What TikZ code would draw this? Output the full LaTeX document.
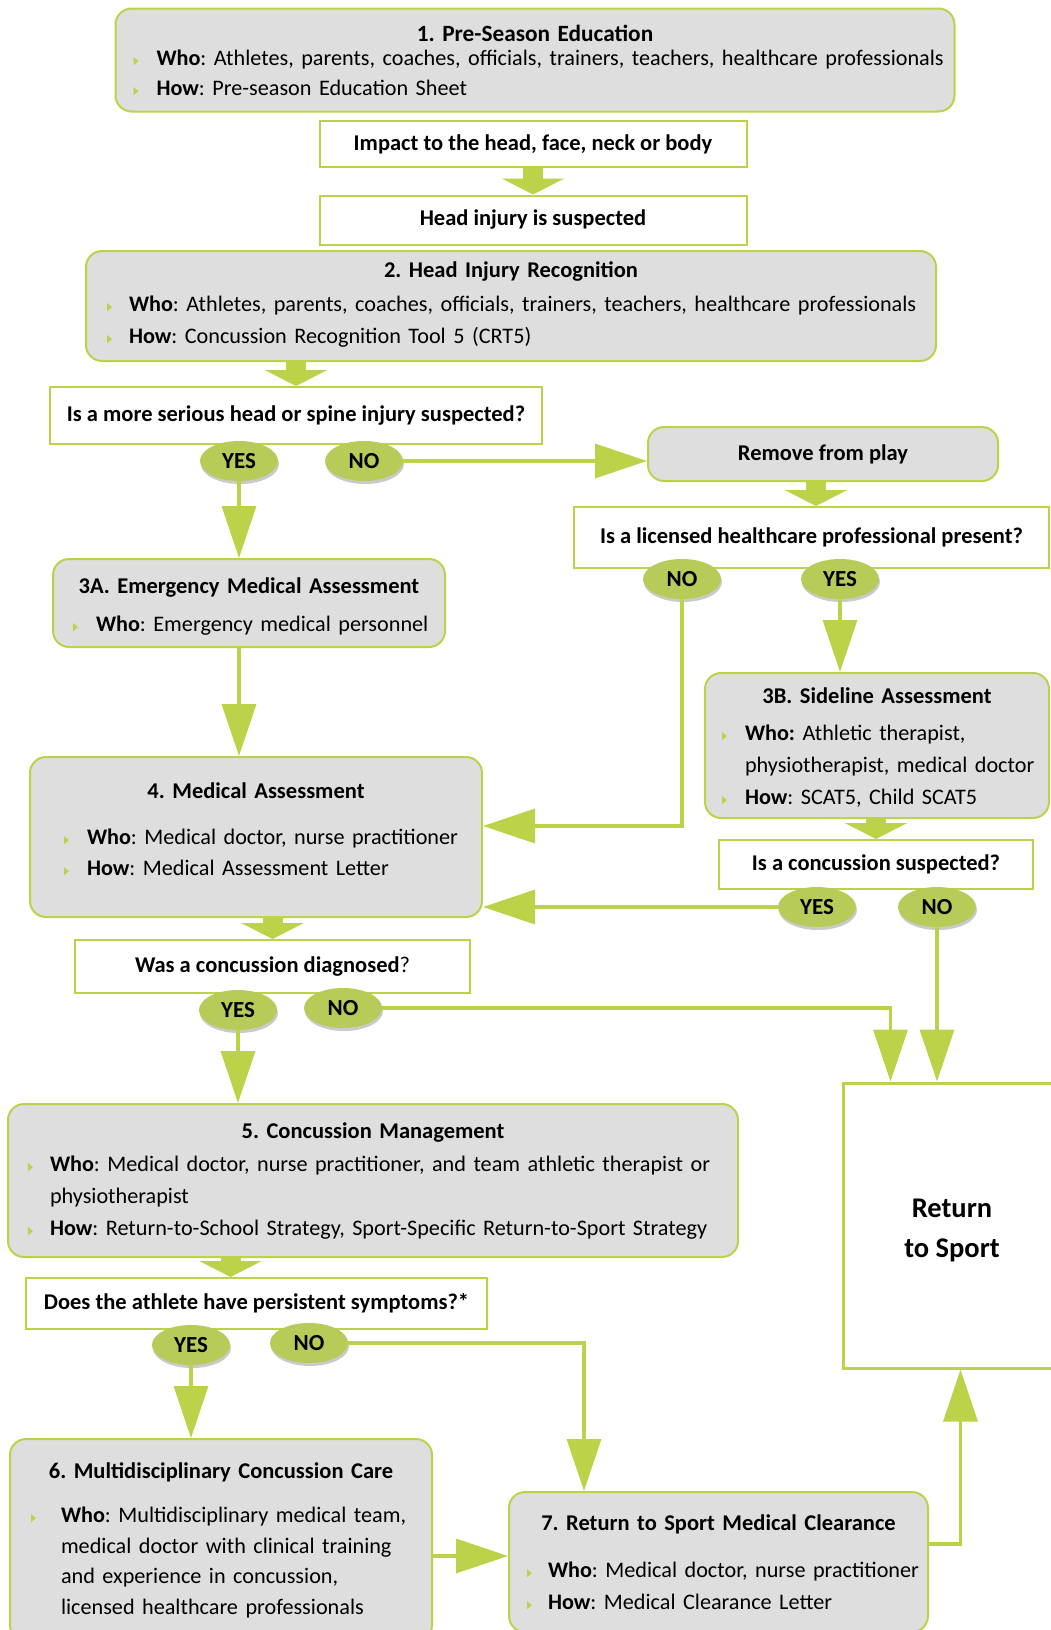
\documentclass[tikz,border=0pt]{standalone}
\usepackage{fontspec}
\setmainfont{Carlito}
\newfontfamily\dejafont{DejaVu Sans}
\usetikzlibrary{arrows.meta,shapes.geometric,shadows,calc}
\frenchspacing

\definecolor{grn}{RGB}{188,210,72}
\definecolor{ovalgrn}{RGB}{183,203,88}
\definecolor{boxgrey}{RGB}{222,222,222}

\newcommand{\bul}[1]{\makebox[#1][l]{\raisebox{1pt}{\textcolor{grn}{\scalebox{0.6}[1]{\dejafont\fontsize{11}{11}\selectfont ▶}}}}}
\newcommand{\ttl}[1]{{\centering\fontsize{22.5}{27}\selectfont\bfseries #1\par}}
% push the text block down (\topgap) or up (\botgap) inside its box
\newcommand{\topgap}[1]{\hrule height0pt\vskip#1}
\newcommand{\botgap}[1]{\par\vskip#1\hrule height0pt}

\begin{document}
\begin{tikzpicture}[x=1pt,y=-1pt,
    font=\fontsize{22.5}{27}\selectfont,
    gbox/.style={rectangle, rounded corners=16pt, draw=grn, line width=2pt, fill=boxgrey, inner xsep=0pt, align=left},
    qbox/.style={rectangle, draw=grn, line width=2pt, fill=white, font=\fontsize{22.5}{27}\selectfont\bfseries},
    oval/.style={ellipse, fill=ovalgrn, minimum width=78, minimum height=40, inner sep=0pt,
      font=\fontsize{23}{27}\selectfont\bfseries,
      drop shadow={shadow xshift=1pt, shadow yshift=-3pt, opacity=.35, fill=black!60}},
    conn/.style={color=grn, line width=3.5pt, -{Triangle[length=52pt,width=34pt]}},
    fat/.style={color=grn, line width=20pt, -{Triangle[length=16pt,width=62pt]}}]

    \useasboundingbox (0,0) rectangle (1051,1630);
    \clip (0,0) rectangle (1051,1630);

    % step 1
    \node[gbox, minimum width=839, minimum height=103, text width=803] (edu) at (535,60)
      {\fontsize{22.2}{30}\selectfont
       {\centering\fontsize{23.3}{30}\selectfont\bfseries 1. Pre-Season Education\par}\vspace{-6pt}
       \mbox{\bul{23pt}\textbf{Who}: Athletes, parents, coaches, officials, trainers, teachers, healthcare professionals}\par
       \mbox{\bul{23pt}\textbf{How}: Pre-season Education Sheet}\par};

    \node[qbox, minimum width=427, minimum height=46] (imp) at (533,144) {Impact to the head, face, neck or body};
    \node[qbox, minimum width=427, minimum height=49] (sus) at (533,220) {Head injury is suspected};

    % step 2
    \node[gbox, minimum width=850, minimum height=110, text width=808] (rec) at (511,306)
      {\fontsize{22.2}{32}\selectfont
       \ttl{2. Head Injury Recognition}\vspace{2pt}
       \mbox{\bul{22pt}\textbf{Who}: Athletes, parents, coaches, officials, trainers, teachers, healthcare professionals}\par
       \mbox{\bul{22pt}\textbf{How}: Concussion Recognition Tool 5 (CRT5)}\botgap{3pt}};

    \node[qbox, minimum width=492, minimum height=57] (serious) at (296,415.5) {Is a more serious head or spine injury suspected?};
    \node[oval] (y1) at (239,461) {YES};
    \node[oval] (n1) at (364,461) {NO};

    \node[gbox, minimum width=350, minimum height=54, font=\fontsize{22.5}{27}\selectfont\bfseries] (rem) at (823,454) {Remove from play};
    \node[qbox, minimum width=475, minimum height=61] (present) at (811.5,537.5) {Is a licensed healthcare professional present?};
    \node[oval] (n2) at (682,579) {NO};
    \node[oval] (y2) at (840,579) {YES};

    % step 3
    \node[gbox, minimum width=392, minimum height=88, text width=352] (ema) at (249,603)
      {\topgap{8pt}\fontsize{22.2}{31}\selectfont
       \ttl{3A. Emergency Medical Assessment}\vspace{7pt}
       \mbox{\bul{23pt}\textbf{Who}: Emergency medical personnel}\par};

    \node[gbox, minimum width=344, minimum height=145, text width=310] (side) at (877,745.5)
      {\topgap{4pt}\fontsize{22.2}{32}\selectfont
       \ttl{3B. Sideline Assessment}\vspace{4.5pt}
       \mbox{\bul{23pt}\textbf{Who:} Athletic therapist,}\par
       \mbox{\hspace*{23pt}physiotherapist, medical doctor}\par
       \mbox{\bul{23pt}\textbf{How}: SCAT5, Child SCAT5}\par};

    \node[qbox, minimum width=314, minimum height=49] (suspect) at (876,864.5) {Is a concussion suspected?};
    \node[oval] (y3) at (817,907) {YES};
    \node[oval] (n3) at (937,907) {NO};

    % step 4
    \node[gbox, minimum width=452, minimum height=160, text width=384] (med) at (256,837)
      {\fontsize{22.2}{31}\selectfont
       \ttl{4. Medical Assessment}\vspace{15pt}
       \mbox{\bul{23pt}\textbf{Who}: Medical doctor, nurse practitioner}\par
       \mbox{\bul{23pt}\textbf{How}: Medical Assessment Letter}\botgap{16pt}};

    \node[qbox, minimum width=395, minimum height=53] (diag) at (272.5,966.5) {Was a concussion diagnosed\textmd{?}};
    \node[oval] (y4) at (238,1010) {YES};
    \node[oval] (n4) at (343,1008) {NO};

    \node[rectangle, draw=grn, line width=3pt, fill=white, minimum width=218, minimum height=285] (rts) at (952,1225.5) {};
    \node[align=center, font=\fontsize{28.5}{40}\selectfont\bfseries] (rtstext) at (952,1230) {Return\\to Sport};

    % step 5
    \node[gbox, minimum width=730, minimum height=153, text width=690] (mgmt) at (373,1180.5)
      {\fontsize{22.2}{32}\selectfont
       \ttl{5. Concussion Management}\vspace{1pt}
       \mbox{\bul{22pt}\textbf{Who}: Medical doctor, nurse practitioner, and team athletic therapist or}\par
       \mbox{\hspace*{22pt}physiotherapist}\par
       \mbox{\bul{22pt}\textbf{How}: Return-to-School Strategy, Sport-Specific Return-to-Sport Strategy}\par};

    \node[qbox, minimum width=461, minimum height=51] (persist) at (256.5,1303.5) {Does the athlete have persistent symptoms?*};
    \node[oval] (y5) at (191,1345) {YES};
    \node[oval] (n5) at (309,1343) {NO};

    % steps 6 and 7
    \node[gbox, minimum width=422, minimum height=202, text width=380] (multi) at (221,1540)
      {\fontsize{22.2}{30.5}\selectfont
       \ttl{6. Multidisciplinary Concussion Care}\vspace{14pt}
       \mbox{\bul{30pt}\textbf{Who}: Multidisciplinary medical team,}\par
       \mbox{\hspace*{30pt}medical doctor with clinical training}\par
       \mbox{\hspace*{30pt}and experience in concussion,}\par
       \mbox{\hspace*{30pt}licensed healthcare professionals}\par};

    \node[gbox, minimum width=419, minimum height=140, text width=383] (clear) at (718.5,1562)
      {\fontsize{22.2}{32}\selectfont
       \ttl{7. Return to Sport Medical Clearance}\vspace{15pt}
       \mbox{\bul{21pt}\textbf{Who}: Medical doctor, nurse practitioner}\par
       \mbox{\bul{21pt}\textbf{How}: Medical Clearance Letter}\par};

    % block arrows
    \draw[fat] (imp.south) -- (sus.north);
    \draw[fat] (serious.north |- rec.south) -- (serious.north);
    \draw[fat] ([xshift=-7pt]rem.south) -- ([xshift=-7pt]rem.south |- present.north);
    \draw[fat] (suspect.north |- side.south) -- (suspect.north);
    \draw[fat] (diag.north |- med.south) -- (diag.north);
    \coordinate (pa) at ($(persist.north)+(-26,0)$);
    \draw[fat] (pa |- mgmt.south) -- (pa);

    % yes / no connectors
    \coordinate (rtsin) at ($(rts.north west)+(49,0)$);
    \coordinate (clin) at ($(clear.north west)+(76,0)$);
    \coordinate (rtsout) at ($(rts.south west)+(119,0)$);
    \coordinate (m6) at ([yshift=-16pt]multi.east);
    \coordinate (c7) at ([yshift=18pt]clear.east);
    \coordinate (m4) at ([yshift=11pt]med.east);

    \draw[conn] (y1.south) -- (y1.south |- ema.north);
    \draw[conn] (n1.east) -- (n1.east -| rem.west);
    \draw[conn] (y2.south) -- (y2.south |- side.north);
    \draw[conn] (n2.south) |- (m4);
    \draw[conn] (y3.west) -- (y3.west -| med.east);
    \draw[conn] (n3.south) -- (n3.south |- rts.north);
    \draw[conn] (ema.south -| y1) -- (y1 |- med.north);
    \draw[conn] (n4.east) -| (rtsin);
    \draw[conn] (y4.south) -- (y4.south |- mgmt.north);
    \draw[conn] (y5.south) -- (y5.south |- multi.north);
    \draw[conn] (n5.east) -| (clin);
    \draw[conn] (m6) -- (m6 -| clear.west);
    \draw[conn] (c7) -| (rtsout);
\end{tikzpicture}
\end{document}
